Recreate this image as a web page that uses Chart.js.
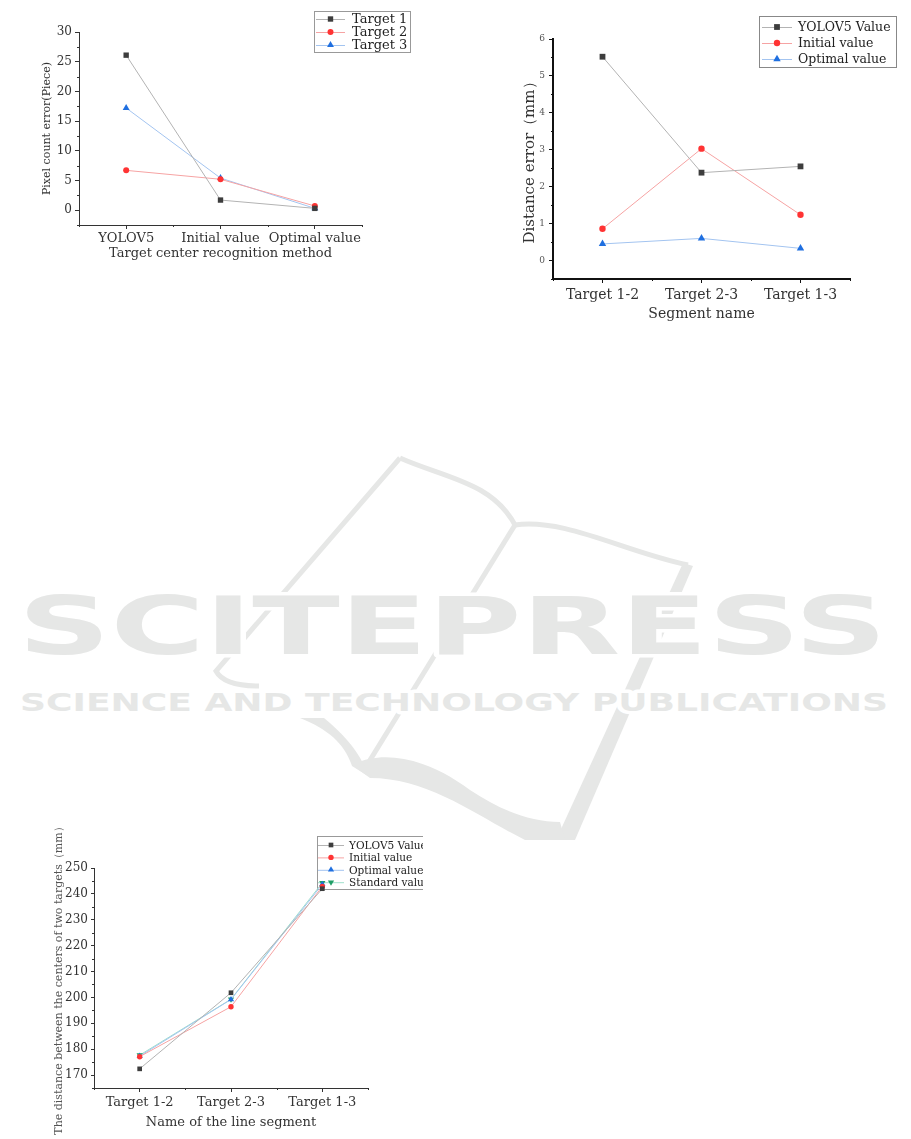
<!DOCTYPE html>
<html>
<head>
<meta charset="utf-8">
<script src="https://cdn.jsdelivr.net/npm/chart.js@4.4.0/dist/chart.umd.min.js"></script>
<style>
html, body { margin: 0; padding: 0; background: #fff; }
body { width: 911px; height: 1139px; position: relative; overflow: hidden; }
#mark { position: absolute; left: 0; top: 0; }
canvas { position: absolute; }
#c1 { left: 0; top: 0; }
#c2 { left: 500px; top: 0; }
#c3 { left: 30px; top: 825px; }
</style>
</head>
<body>
<svg id="mark" width="911" height="1139" viewBox="0 0 911 1139">
  <g fill="none" stroke="#e6e7e6" stroke-width="5">
    <path d="M400 458 L216 671 Q224 686 259 686"/>
    <path d="M400 458 C445 478 492 482 515 525"/>
    <path d="M515 525 L367 765"/>
    <path d="M515 525 C565 518 625 552 688 565"/>
  </g>
  <g fill="#e6e7e6">
    <path d="M683 563 L693 566 L575 840 L556 840 Z"/>
    <path d="M352 765 C385 748 430 760 470 790 C500 810 530 822 560 822 L565 840 L525 840 C480 818 430 778 370 778 Z"/>
    <path d="M300 718 L324 718 C345 735 362 755 368 776 L352 766 C345 745 330 730 300 718 Z"/>
  </g>
  <g font-family="DejaVu Sans" font-weight="bold" fill="#e6e7e6" stroke="#fff" stroke-width="7" paint-order="stroke" stroke-linejoin="round">
    <text x="18" y="654" font-size="80" textLength="869" lengthAdjust="spacingAndGlyphs">SCITEPRESS</text>
    <text x="20" y="711" font-size="25" textLength="868" lengthAdjust="spacingAndGlyphs">SCIENCE AND TECHNOLOGY PUBLICATIONS</text>
  </g>
</svg>
<canvas id="c1" width="420" height="270"></canvas>
<canvas id="c2" width="411" height="330"></canvas>
<canvas id="c3" width="393" height="314"></canvas>
<script>
// chart 1: pixel count error per recognition method
const methods = ['YOLOV5', 'Initial value', 'Optimal value'];
const target1 = [26.1, 1.7, 0.3];
const target2 = [6.7, 5.2, 0.7];
const target3 = [17.2, 5.4, 0.3];
const pixelTicks = [0, 5, 10, 15, 20, 25, 30];

// chart 2: distance error per segment
const segments = ['Target 1-2', 'Target 2-3', 'Target 1-3'];
const yoloError = [5.52, 2.38, 2.55];
const initialError = [0.86, 3.03, 1.24];
const optimalError = [0.45, 0.60, 0.33];
const errorTicks = [0, 1, 2, 3, 4, 5, 6];

// chart 3: distance between target centres
const yoloDist = [172.4, 201.8, 242.0];
const initialDist = [177.1, 196.4, 242.9];
const optimalDist = [177.3, 199.2, 243.7];
const standardDist = [177.7, 199.3, 244.3];
const distTicks = [170, 180, 190, 200, 210, 220, 230, 240, 250];

const FONT = '"DejaVu Serif", "Liberation Serif", serif';

const GREY = { line: '#b3b3b3', mark: '#3d3d3d' };
const RED = { line: '#f6a3a3', mark: '#ff3333' };
const BLUE = { line: '#a3c4f0', mark: '#1f6fe0' };
const GREEN = { line: '#9fe0cc', mark: '#1f9e66' };

function drawMarker(ctx, style, rot, r, x, y, color) {
    ctx.fillStyle = color;
    ctx.beginPath();
    if (style === 'rect') {
        const s = r * Math.SQRT1_2;
        ctx.rect(x - s, y - s, 2 * s, 2 * s);
    } else if (style === 'triangle') {
        let a = (rot || 0) * Math.PI / 180;
        ctx.moveTo(x + Math.sin(a) * r, y - Math.cos(a) * r);
        a += 2 * Math.PI / 3;
        ctx.lineTo(x + Math.sin(a) * r, y - Math.cos(a) * r);
        a += 2 * Math.PI / 3;
        ctx.lineTo(x + Math.sin(a) * r, y - Math.cos(a) * r);
        ctx.closePath();
    } else {
        ctx.arc(x, y, r, 0, Math.PI * 2);
    }
    ctx.fill();
}

// legend in a box, drawn under the data like the original
const boxLegend = {
    id: 'boxLegend',
    beforeDatasetsDraw(chart, args, o) {
        const ctx = chart.ctx;
        ctx.save();
        ctx.strokeStyle = o.border;
        ctx.lineWidth = 1;
        ctx.strokeRect(o.x + 0.5, o.y + 0.5, o.w, o.h);
        ctx.font = o.font;
        ctx.textBaseline = 'middle';
        chart.data.datasets.forEach((ds, i) => {
            const cy = o.y + o.first + i * o.rowH;
            ctx.strokeStyle = ds.borderColor;
            ctx.beginPath();
            ctx.moveTo(o.x + o.lineFrom, cy + 0.5);
            ctx.lineTo(o.x + o.lineTo, cy + 0.5);
            ctx.stroke();
            drawMarker(ctx, ds.pointStyle, ds.pointRotation, ds.pointRadius,
                o.x + (o.lineFrom + o.lineTo) / 2, cy, ds.pointBackgroundColor);
            ctx.fillStyle = o.color;
            ctx.fillText(ds.label, o.x + o.textX, cy + 1);
        });
        ctx.restore();
    }
};

// small ticks between the labelled ones
const minorTicks = {
    id: 'minorTicks',
    afterDraw(chart, args, o) {
        const ctx = chart.ctx;
        const x = chart.scales.x, y = chart.scales.y;
        const vals = y.ticks.map(t => t.value);
        const step = vals[1] - vals[0];
        ctx.save();
        ctx.strokeStyle = o.color;
        ctx.lineWidth = 1;
        ctx.beginPath();
        for (let v = vals[0] - step / 2; v <= y.max + 1e-9; v += step) {
            if (v < y.min - 1e-9) continue;
            const py = Math.round(y.getPixelForValue(v)) + 0.5;
            ctx.moveTo(y.right, py);
            ctx.lineTo(y.right - o.len, py);
        }
        for (let i = -0.5; i <= x.max + 0.5; i++) {
            const px = Math.round(x.getPixelForValue(i)) + 0.5;
            ctx.moveTo(px, x.top);
            ctx.lineTo(px, x.top + o.len);
        }
        ctx.stroke();
        ctx.restore();
    }
};

function series(label, data, col, style, r, rot) {
    return {
        label: label,
        data: data,
        borderColor: col.line,
        backgroundColor: col.mark,
        pointBackgroundColor: col.mark,
        pointBorderWidth: 0,
        pointStyle: style,
        pointRadius: r,
        pointRotation: rot || 0,
        borderWidth: 1,
        tension: 0
    };
}

function yAxis(p) {
    return {
        min: p.min,
        max: p.max,
        afterBuildTicks: s => { s.ticks = p.ticks.map(v => ({ value: v })); },
        afterFit: s => { s.width = p.width; },
        border: { display: true, color: p.axisColor, width: p.axisWidth },
        grid: { drawOnChartArea: false, drawTicks: true, tickLength: p.tickLen, color: p.axisColor },
        ticks: { font: { family: FONT, size: p.tickSize }, color: p.tickColor, padding: p.tickPad },
        title: {
            display: true, text: p.title, color: p.titleColor,
            font: { family: FONT, size: p.titleSize },
            padding: { top: p.titlePad, bottom: 0 }
        }
    };
}

function xAxis(p) {
    return {
        type: 'category',
        offset: true,
        afterFit: s => { s.height = p.height; },
        border: { display: true, color: p.axisColor, width: p.axisWidth },
        grid: { offset: false, drawOnChartArea: false, drawTicks: true, tickLength: p.tickLen, color: p.axisColor },
        ticks: {
            autoSkip: false, maxRotation: 0,
            font: { family: FONT, size: p.tickSize }, color: p.tickColor, padding: p.tickPad
        },
        title: {
            display: true, text: p.title, color: p.titleColor,
            font: { family: FONT, size: p.titleSize },
            padding: { top: 0, bottom: p.titlePad }
        }
    };
}

function makeChart(id, labels, datasets, padding, scales, legend, minorLen, minorColor) {
    return new Chart(document.getElementById(id), {
        type: 'line',
        data: { labels: labels, datasets: datasets },
        options: {
            responsive: false,
            animation: false,
            events: [],
            layout: { padding: padding },
            scales: scales,
            plugins: {
                legend: { display: false },
                tooltip: { enabled: false },
                boxLegend: legend,
                minorTicks: { len: minorLen, color: minorColor }
            }
        },
        plugins: [boxLegend, minorTicks]
    });
}

makeChart('c1', methods, [
    series('Target 1', target1, GREY, 'rect', 3.8),
    series('Target 2', target2, RED, 'circle', 3),
    series('Target 3', target3, BLUE, 'triangle', 4)
], { left: 0, top: 32, right: 58, bottom: 5 }, {
    x: xAxis({ height: 40, axisColor: '#333', axisWidth: 1, tickLen: 4, tickSize: 13, tickColor: '#333', tickPad: 2,
        title: 'Target center recognition method', titleSize: 13, titleColor: '#333', titlePad: 4 }),
    y: yAxis({ min: -2.5, max: 30, ticks: pixelTicks, width: 79, axisColor: '#333', axisWidth: 1, tickLen: 4,
        tickSize: 12, tickColor: '#333', tickPad: 3, title: 'Pixel count error(Piece)', titleSize: 11,
        titleColor: '#333', titlePad: 41 })
}, { x: 314, y: 11, w: 96, h: 41, first: 8, rowH: 13, lineFrom: 2, lineTo: 31, textX: 38,
    font: '13px ' + FONT, border: '#999', color: '#222' }, 2, '#333');

makeChart('c2', segments, [
    series('YOLOV5 Value', yoloError, GREY, 'rect', 4.1),
    series('Initial value', initialError, RED, 'circle', 3.2),
    series('Optimal value', optimalError, BLUE, 'triangle', 4.3)
], { left: 0, top: 39, right: 61, bottom: 6 }, {
    x: xAxis({ height: 45, axisColor: '#111', axisWidth: 2, tickLen: 4, tickSize: 14, tickColor: '#333', tickPad: 4,
        title: 'Segment name', titleSize: 14, titleColor: '#333', titlePad: 1 }),
    y: yAxis({ min: -0.5, max: 6, ticks: errorTicks, width: 53, axisColor: '#111', axisWidth: 2, tickLen: 4,
        tickSize: 9, tickColor: '#555', tickPad: 4, title: 'Distance error（mm）', titleSize: 15,
        titleColor: '#333', titlePad: 21 })
}, { x: 259, y: 16, w: 137, h: 51, first: 11, rowH: 16, lineFrom: 3, lineTo: 33, textX: 39,
    font: '12.5px ' + FONT, border: '#888', color: '#222' }, 2, '#111');

makeChart('c3', segments, [
    series('YOLOV5 Value', yoloDist, GREY, 'rect', 3.3),
    series('Initial value', initialDist, RED, 'circle', 2.7),
    series('Optimal value', optimalDist, BLUE, 'triangle', 3.6),
    series('Standard value', standardDist, GREEN, 'triangle', 3.6, 180)
], { left: 0, top: 43, right: 55, bottom: 6 }, {
    x: xAxis({ height: 45, axisColor: '#333', axisWidth: 1, tickLen: 4, tickSize: 13, tickColor: '#333', tickPad: 3,
        title: 'Name of the line segment', titleSize: 13, titleColor: '#333', titlePad: 3 }),
    y: yAxis({ min: 165, max: 250, ticks: distTicks, width: 64, axisColor: '#333', axisWidth: 1, tickLen: 3,
        tickSize: 12, tickColor: '#333', tickPad: 3,
        title: 'The distance between the centers of two targets（mm）', titleSize: 11,
        titleColor: '#555', titlePad: 23 })
}, { x: 287, y: 11, w: 115, h: 53, first: 9, rowH: 12.4, lineFrom: 1, lineTo: 27, textX: 32,
    font: '10.5px ' + FONT, border: '#999', color: '#222' }, 2, '#333');
</script>
</body>
</html>
